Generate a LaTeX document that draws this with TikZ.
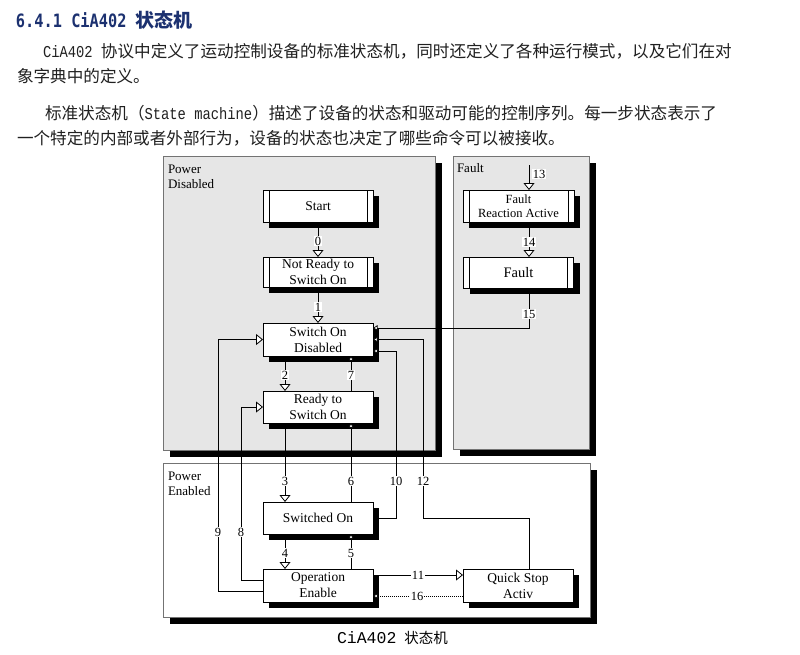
\documentclass[tikz,border=0pt]{standalone}
\usepackage{fontspec}
\setmainfont{Liberation Serif}
\newfontfamily\cjk{Noto Sans CJK SC}
\newfontfamily\mono{Liberation Mono}
\newfontfamily\hmono{DejaVu Sans Mono}
\usetikzlibrary{arrows.meta,shadows,calc}
\definecolor{headblue}{HTML}{1C3170}
\definecolor{panelgray}{HTML}{E6E6E6}
\definecolor{bodytxt}{HTML}{202020}
\newcommand{\latmono}[1]{\scalebox{1}[1.2]{\mono\fontsize{13.8}{20}\selectfont #1}}
\begin{document}
\begin{tikzpicture}[x=1pt,y=-1pt,
  every node/.style={inner sep=0pt, outer sep=0pt},
  panel/.style={draw=black!55, line width=0.6pt, fill=panelgray, anchor=north west,
    general shadow={fill=black, shadow xshift=7pt, shadow yshift=-7pt}},
  state/.style={draw=black, line width=0.8pt, fill=white, minimum width=110pt, align=center,
    font=\fontsize{13.5}{16}\selectfont,
    general shadow={fill=black, shadow xshift=6pt, shadow yshift=-6pt}},
  conn/.style={line width=0.8pt, draw=black},
  big/.style={conn, -{Triangle[width=11pt,length=7pt,fill=white,line width=0.8pt]}},
  small/.style={conn, -{Triangle[width=5.5pt,length=4.5pt,fill=white,line width=0.7pt]}},
  lbl/.style={fill=white, inner sep=0.8pt, font=\fontsize{12.5}{12.5}\selectfont},
  ptxt/.style={anchor=base west, font=\fontsize{13}{15}\selectfont},
  body/.style={anchor=base west, text=bodytxt, font=\cjk\fontsize{16.6}{20}\selectfont},
]
\useasboundingbox (0,0) rectangle (800,654);
\fill[white] (0,0) rectangle (800,654);

% ---- text above ----
\node[anchor=base west, text=headblue] (head) at (16,27)
  {\scalebox{1}[1.2]{\hmono\bfseries\fontsize{15.3}{18}\selectfont 6.4.1 CiA402 }{\cjk\bfseries\fontsize{19}{22}\selectfont 状态机}};
\node[body] (p1) at (43,57) {\latmono{CiA402 }协议中定义了运动控制设备的标准状态机，同时还定义了各种运行模式，以及它们在对};
\node[body] (p2) at (17,82) {象字典中的定义。};
\node[body] (p3) at (45,119) {标准状态机（\latmono{State machine}）描述了设备的状态和驱动可能的控制序列。每一步状态表示了};
\node[body] (p4) at (17,144) {一个特定的内部或者外部行为，设备的状态也决定了哪些命令可以被接收。};

% ---- panels ----
\node[panel, minimum width=272pt, minimum height=294pt] (pd) at (163,156) {};
\node[panel, minimum width=136pt, minimum height=293pt] (ft) at (453,156) {};
\node[panel, fill=white, minimum width=427pt, minimum height=154pt] (pe) at (163,463) {};
\node[ptxt] (pdt1) at (168,173) {Power};
\node[ptxt] (pdt2) at (168,188) {Disabled};
\node[ptxt] (ftt) at (457,172) {Fault};
\node[ptxt] (pet1) at (168,480) {Power};
\node[ptxt] (pet2) at (168,495) {Enabled};

% ---- states ----
\node[state, minimum height=32pt] (start) at (318,206) {Start};
\node[state, minimum height=30pt] (nrdy) at (318,272) {Not Ready to\\Switch On};
\node[state, minimum height=33pt] (sod) at (318,339.5) {Switch On\\Disabled};
\node[state, minimum height=32pt] (rtso) at (318,407) {Ready to\\Switch On};
\node[state, minimum height=32pt] (swon) at (318,518) {Switched On};
\node[state, minimum height=33pt] (oe) at (318,585.5) {Operation\\Enable};
\node[state, minimum height=33pt] (qs) at (518,585.5) {Quick Stop\\Activ};
\node[state, minimum height=32pt, minimum width=111pt, font=\fontsize{12.5}{14}\selectfont] (fra) at (518.5,206) {Fault\\Reaction Active};
\node[state, minimum height=31pt, font=\fontsize{14.5}{16}\selectfont] (fault) at (518.5,272.5) {Fault};
\foreach \n in {start,nrdy,fra,fault}{
  \draw[line width=0.8pt] ([xshift=6pt]\n.north west) -- ([xshift=6pt]\n.south west);
  \draw[line width=0.8pt] ([xshift=-6pt]\n.north east) -- ([xshift=-6pt]\n.south east);
}

% ---- connectors ----
\coordinate (t13) at (529,165);
\coordinate (k12) at (423,518);
\coordinate (k10) at (396,518);
\coordinate (k9) at (218,591);
\coordinate (k8) at (241,580);

\draw[big] (start.south) -- (nrdy.north);
\draw[big] (nrdy.south) -- (sod.north);
\draw[big] ([xshift=-33pt]sod.south) -- ([xshift=-33pt]rtso.north);
\draw[small] ([xshift=33pt]rtso.north) -- ([xshift=33pt]sod.south);
\draw[big] ([xshift=-33pt]rtso.south) -- ([xshift=-33pt]swon.north);
\draw[small] ([xshift=33pt]swon.north) -- ([xshift=33pt]rtso.south);
\draw[big] ([xshift=-33pt]swon.south) -- ([xshift=-33pt]oe.north);
\draw[small] ([xshift=33pt]oe.north) -- ([xshift=33pt]swon.south);
\draw[big] (t13) -- (t13 |- fra.north);
\draw[big] ([xshift=10.5pt]fra.south) -- ([xshift=10.5pt]fault.north);
\draw[small] ([xshift=10.5pt]fault.south) |- ([yshift=11.5pt]sod.east);
\draw[small] ([xshift=11pt]qs.north) |- (k12) |- (sod.east);
\draw[small] (swon.east) -- (k10) |- ([yshift=-11.5pt]sod.east);
\draw[big] ([yshift=-5.5pt]oe.west) -- (k9) |- (sod.west);
\draw[big] ([yshift=5.5pt]oe.west) -- (k8) |- (rtso.west);
\draw[big] ([yshift=10.5pt]oe.east) -- ([yshift=10.5pt]qs.west);
\draw[small, dash pattern=on 1.2pt off 0.8pt] ([yshift=-10.5pt]qs.west) -- ([yshift=-10.5pt]oe.east);

% ---- labels ----
\node[lbl] (l0) at (318,241) {0};
\node[lbl] (l1) at (318,307) {1};
\node[lbl] (l2) at (285,375) {2};
\node[lbl] (l7) at (351,375) {7};
\node[lbl] (l3) at (285,481) {3};
\node[lbl] (l6) at (351,481) {6};
\node[lbl] (l10) at (396,481) {10};
\node[lbl] (l12) at (423,481) {12};
\node[lbl] (l4) at (285,553) {4};
\node[lbl] (l5) at (351,553) {5};
\node[lbl] (l9) at (218,532) {9};
\node[lbl] (l8) at (241,532) {8};
\node[lbl] (l11) at (418,575) {11};
\node[lbl] (l16) at (417,596) {16};
\node[lbl, anchor=west] (l13) at (532,174) {13};
\node[lbl] (l14) at (529,242) {14};
\node[lbl] (l15) at (529,314) {15};

% ---- caption ----
\node[anchor=base west, text=black] (cap) at (337,643)
  {{\mono\fontsize{16.5}{18}\selectfont CiA402}\hspace{8pt}{\cjk\fontsize{14.5}{16}\selectfont 状态机}};
\end{tikzpicture}
\end{document}
